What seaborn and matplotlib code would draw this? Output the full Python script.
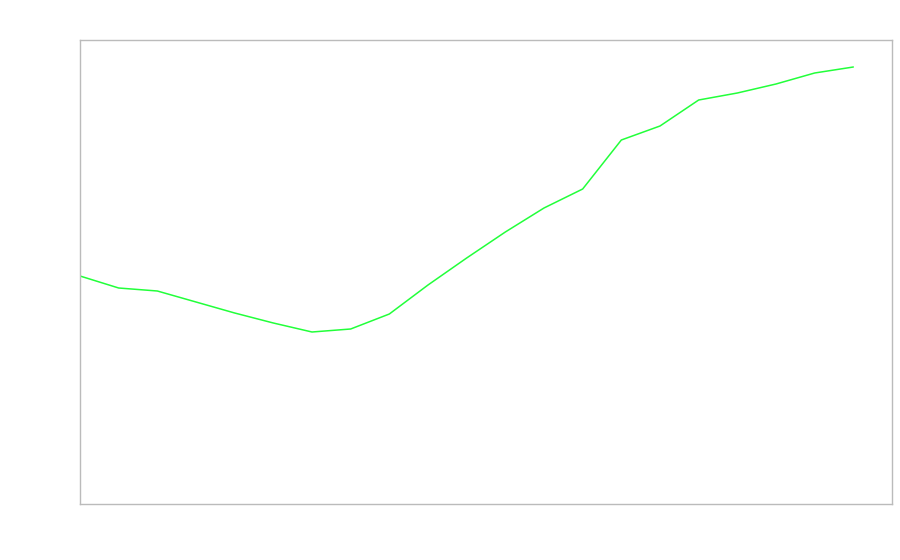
import numpy as np
import pandas as pd
import matplotlib
matplotlib.use("Agg")
import matplotlib.pyplot as plt
import seaborn as sns

# values (no axis labels in the reference)
steps = list(range(21))
values = [228, 216, 213, 202, 191, 181, 172, 175, 190, 219, 246,
          272, 296, 315, 364, 378, 404, 411, 420, 431, 437]

df = pd.DataFrame({"step": steps, "value": values})

sns.set_style("white")
fig = plt.figure(figsize=(9, 5.6), dpi=100)
ax = fig.add_axes([80 / 900, 56 / 560, 812 / 900, 464 / 560])

sns.lineplot(data=df, x="step", y="value", color="#22ff3a", linewidth=1.1, ax=ax)

ax.set_xlim(0, 21)
ax.set_ylim(0, 464)
ax.set_xticks([])
ax.set_yticks([])
ax.set_xlabel("")
ax.set_ylabel("")
for s in ax.spines.values():
    s.set_color("#bbbbbb")
    s.set_linewidth(1)

fig.savefig("out.png", dpi=100)
